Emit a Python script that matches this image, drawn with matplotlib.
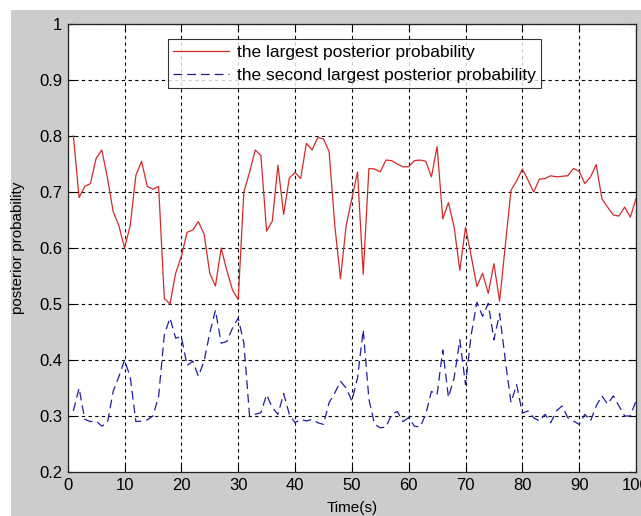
import numpy as np
import matplotlib.pyplot as plt
from matplotlib.patches import Rectangle

plt.rcParams['font.family'] = ['Liberation Sans Narrow', 'Liberation Sans', 'DejaVu Sans']

# time axis (s)
t = np.arange(1, 101)

# largest posterior probability
p_max = [0.80, 0.69, 0.71, 0.715, 0.76, 0.775, 0.725, 0.665, 0.64, 0.60,
         0.64, 0.73, 0.755, 0.71, 0.705, 0.71, 0.51, 0.50, 0.555, 0.585,
         0.628, 0.632, 0.647, 0.625, 0.555, 0.532, 0.60, 0.56, 0.525, 0.508,
         0.70, 0.735, 0.775, 0.765, 0.63, 0.648, 0.748, 0.66, 0.725, 0.735,
         0.724, 0.787, 0.775, 0.797, 0.795, 0.772, 0.64, 0.545, 0.64, 0.688,
         0.736, 0.553, 0.742, 0.741, 0.736, 0.757, 0.756, 0.75, 0.745, 0.745,
         0.756, 0.757, 0.755, 0.727, 0.781, 0.652, 0.681, 0.637, 0.56, 0.637,
         0.586, 0.531, 0.555, 0.519, 0.572, 0.505, 0.604, 0.703, 0.72, 0.741,
         0.721, 0.70, 0.723, 0.724, 0.729, 0.727, 0.728, 0.729, 0.742, 0.737,
         0.715, 0.727, 0.749, 0.688, 0.673, 0.659, 0.657, 0.673, 0.655, 0.688]

# second largest posterior probability
p_second = [0.309, 0.35, 0.294, 0.29, 0.291, 0.282, 0.288, 0.344, 0.37, 0.40,
            0.37, 0.29, 0.291, 0.293, 0.30, 0.335, 0.445, 0.475, 0.439, 0.442,
            0.39, 0.398, 0.371, 0.398, 0.448, 0.489, 0.43, 0.433, 0.457, 0.475,
            0.43, 0.30, 0.303, 0.306, 0.338, 0.315, 0.303, 0.34, 0.303, 0.288,
            0.294, 0.291, 0.294, 0.288, 0.285, 0.324, 0.341, 0.362, 0.35, 0.327,
            0.368, 0.454, 0.33, 0.285, 0.279, 0.28, 0.303, 0.308, 0.29, 0.297,
            0.282, 0.28, 0.303, 0.344, 0.338, 0.418, 0.333, 0.368, 0.436, 0.356,
            0.445, 0.503, 0.478, 0.501, 0.436, 0.483, 0.40, 0.324, 0.356, 0.305,
            0.309, 0.297, 0.291, 0.303, 0.288, 0.309, 0.318, 0.297, 0.291, 0.285,
            0.303, 0.291, 0.318, 0.336, 0.321, 0.336, 0.318, 0.30, 0.30, 0.327]

labels = ['the largest posterior probability',
          'the second largest posterior probability']

fig = plt.figure(figsize=(6.41, 5.16), dpi=100, facecolor='white')
# grey MATLAB-style figure background (image is cropped, white strip top/left)
fig.patches.append(Rectangle((11 / 641, 0), 1, (516 - 10) / 516,
                             transform=fig.transFigure, facecolor='#cccccc',
                             edgecolor='none', zorder=-10))

ax = fig.add_axes([0.1056, 0.0853, 0.8866, 0.8682])
ax.set_facecolor('white')

ax.plot(t, p_max, color='#d42a2a', linewidth=0.9, label=labels[0])
ax.plot(t, p_second, color='#1e1e9e', linewidth=0.9,
        linestyle=(0, (7, 4)), label=labels[1])

ax.set_xlim(0, 100)
ax.set_ylim(0.2, 1.0)
ax.set_xticks(np.arange(0, 101, 10))
ax.set_yticks(np.arange(0.2, 1.01, 0.1))
ax.set_yticklabels(['0.2', '0.3', '0.4', '0.5', '0.6', '0.7', '0.8', '0.9', '1'])

ax.grid(True, color='black', linestyle=(0, (3, 3)), linewidth=0.8)
ax.tick_params(direction='in', top=True, right=True, length=5,
               labelsize=12, pad=4, width=0.8)
for s in ax.spines.values():
    s.set_linewidth(0.9)
    s.set_color('#222222')

ax.set_xlabel('Time(s)', fontsize=11, labelpad=6)
ax.set_ylabel('posterior probability', fontsize=11, labelpad=10)

leg = ax.legend(loc='upper center', bbox_to_anchor=(0.505, 0.985),
                fontsize=12.5, frameon=True, fancybox=False,
                edgecolor='black', handlelength=3.2, borderpad=0.3,
                labelspacing=0.45, handletextpad=0.5)
leg.get_frame().set_linewidth(0.8)

fig.savefig('out.png', dpi=100, facecolor=fig.get_facecolor())
